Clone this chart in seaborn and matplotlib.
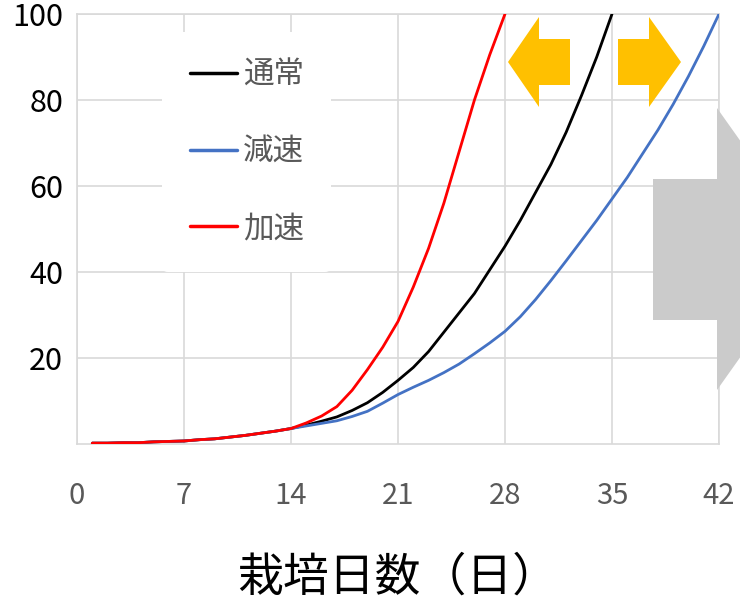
import numpy as np
import pandas as pd
import matplotlib
matplotlib.use("Agg")
import matplotlib.pyplot as plt
from matplotlib.patches import Polygon
import seaborn as sns

# ---- data ----
series_names = ["通常", "減速", "加速"]
days_normal = list(range(1, 36))
vals_normal = [0.2, 0.2, 0.3, 0.3, 0.5, 0.6, 0.7, 1.0, 1.2, 1.6, 2.0, 2.5, 3.0, 3.6,
               4.4, 5.3, 6.3, 7.8, 9.6, 12.0, 14.8, 17.8, 21.5, 26.0, 30.5, 35.0,
               40.5, 46.0, 52.0, 58.5, 65.0, 72.5, 81.0, 90.0, 100.0]
days_slow = list(range(1, 43))
vals_slow = [0.2, 0.2, 0.3, 0.3, 0.5, 0.6, 0.7, 1.0, 1.2, 1.6, 2.0, 2.5, 3.0, 3.6,
             4.2, 4.8, 5.4, 6.4, 7.6, 9.5, 11.5, 13.2, 14.8, 16.6, 18.6, 21.0,
             23.5, 26.2, 29.6, 33.6, 38.0, 42.6, 47.3, 52.0, 57.0, 62.0, 67.5,
             73.0, 79.0, 85.5, 92.5, 100.0]
days_fast = list(range(1, 29))
vals_fast = [0.2, 0.2, 0.3, 0.3, 0.5, 0.6, 0.7, 1.0, 1.2, 1.6, 2.0, 2.5, 3.0, 3.6,
             4.9, 6.5, 8.7, 12.5, 17.3, 22.5, 28.5, 36.5, 45.5, 56.0, 68.0, 80.0,
             90.5, 100.0]
x_ticks = [0, 7, 14, 21, 28, 35, 42]
y_ticks = [20, 40, 60, 80, 100]
colors = {"通常": "#000000", "減速": "#4472C4", "加速": "#FF0000"}

df = pd.concat([
    pd.DataFrame({"day": days_normal, "value": vals_normal, "series": "通常"}),
    pd.DataFrame({"day": days_slow, "value": vals_slow, "series": "減速"}),
    pd.DataFrame({"day": days_fast, "value": vals_fast, "series": "加速"}),
], ignore_index=True)

sns.set_style("white")
plt.rcParams["font.family"] = ["Noto Sans CJK JP", "DejaVu Sans"]

W, H = 740, 608
fig = plt.figure(figsize=(W / 100, H / 100), dpi=100)
ax = fig.add_axes([77 / W, 1 - 444 / H, (719 - 77) / W, (444 - 14) / H])

grid_c = "#D9D9D9"
sns.lineplot(data=df, x="day", y="value", hue="series", hue_order=series_names,
             palette=colors, estimator=None, sort=False, linewidth=2.0,
             ax=ax, legend=False, zorder=3)

ax.set_xlim(0, 42)
ax.set_ylim(0, 100)
ax.set_xticks(x_ticks)
ax.set_yticks(y_ticks)
ax.set_xticklabels([str(t) for t in x_ticks], fontsize=21, color="#595959")
ax.set_yticklabels([str(t) for t in y_ticks], fontsize=22, color="#000000")
ax.tick_params(axis="both", length=0)
ax.tick_params(axis="x", pad=27)
ax.tick_params(axis="y", pad=10)
ax.grid(True, color=grid_c, linewidth=1.2)
ax.set_axisbelow(True)
for s in ax.spines.values():
    s.set_color(grid_c)
    s.set_linewidth(1.2)
ax.set_xlabel("栽培日数（日）", fontsize=33, color="#000000", labelpad=30)
ax.set_ylabel("")

handles = [plt.Line2D([], [], color=colors[n], linewidth=2.5) for n in series_names]
leg = ax.legend(handles, series_names, loc="upper left",
                bbox_to_anchor=(162 / W, 1 - 32 / H), bbox_transform=fig.transFigure,
                fontsize=22, labelcolor="#595959", frameon=True, facecolor="white",
                edgecolor="none", framealpha=1.0, handlelength=1.55,
                handletextpad=0.2, labelspacing=1.5, borderpad=0.9,
                borderaxespad=0)
leg.set_zorder(4)

def px(points):
    return [(x / W, 1 - y / H) for x, y in points]

orange = "#FFC000"
left_arrow = [(508, 62), (539, 17), (539, 39), (570, 39), (570, 85), (539, 85), (539, 107)]
right_arrow = [(681, 62), (649, 17), (649, 39), (618, 39), (618, 85), (649, 85), (649, 107)]
gray_arrow = [(653, 179), (717, 179), (717, 108), (817, 249), (717, 390), (717, 320), (653, 320)]
for pts, c in [(left_arrow, orange), (right_arrow, orange), (gray_arrow, "#CBCBCB")]:
    fig.patches.append(Polygon(px(pts), closed=True, facecolor=c, edgecolor="none",
                               transform=fig.transFigure, zorder=10))

fig.savefig("out.png", dpi=100, facecolor="white")
